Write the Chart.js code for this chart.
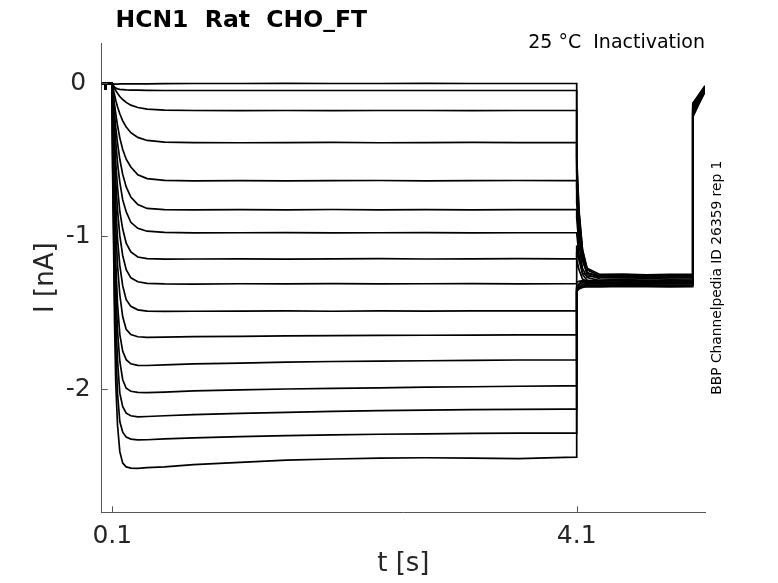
<!DOCTYPE html>
<html>
<head>
<meta charset="utf-8">
<script src="https://cdn.jsdelivr.net/npm/chart.js@4.4.1/dist/chart.umd.min.js"></script>
<style>
  html, body { margin: 0; background: #fff; }
  canvas { display: block; }
</style>
</head>
<body>
<canvas id="chart" width="778" height="583"></canvas>
<script>
// holding segment, same for every sweep (t in s, I in nA)
const holdT = [0.009, 0.036, 0.04, 0.044, 0.1];
const holdI = [0.0, 0.0, -0.035, 0.0, 0.0];

// test pulse (0.1 s .. 4.1 s)
const testT = [0.1, 0.105, 0.11, 0.12, 0.13, 0.145, 0.165, 0.19, 0.22, 0.26, 0.32, 0.4,
               0.55, 0.8, 1.2, 1.6, 2.0, 2.4, 2.8, 3.2, 3.6, 4.0, 4.1];
const testI = [
  [0, -0.002, -0.003, -0.004, -0.004, -0.004, -0.003, -0.003, -0.003, -0.002, -0.002, -0.002, -0.001, 0, 0, 0.001, 0, 0, 0.001, 0, 0, 0, 0],
  [0, -0.008, -0.015, -0.024, -0.03, -0.035, -0.038, -0.04, -0.042, -0.043, -0.044, -0.045, -0.046, -0.046, -0.046, -0.046, -0.046, -0.046, -0.046, -0.046, -0.046, -0.046, -0.046],
  [0, -0.009, -0.017, -0.032, -0.046, -0.064, -0.085, -0.105, -0.124, -0.142, -0.157, -0.168, -0.175, -0.177, -0.178, -0.177, -0.178, -0.177, -0.177, -0.178, -0.177, -0.177, -0.177],
  [0, -0.021, -0.041, -0.077, -0.11, -0.152, -0.198, -0.245, -0.285, -0.322, -0.353, -0.373, -0.384, -0.387, -0.388, -0.387, -0.386, -0.388, -0.387, -0.386, -0.387, -0.387, -0.387],
  [0, -0.038, -0.075, -0.14, -0.197, -0.274, -0.356, -0.432, -0.496, -0.547, -0.598, -0.623, -0.634, -0.637, -0.636, -0.638, -0.636, -0.635, -0.637, -0.636, -0.635, -0.636, -0.636],
  [0, -0.056, -0.11, -0.207, -0.289, -0.388, -0.496, -0.595, -0.677, -0.743, -0.793, -0.818, -0.826, -0.828, -0.826, -0.827, -0.825, -0.827, -0.826, -0.828, -0.826, -0.826, -0.826],
  [0, -0.078, -0.15, -0.274, -0.381, -0.518, -0.645, -0.762, -0.84, -0.909, -0.948, -0.967, -0.975, -0.978, -0.977, -0.976, -0.978, -0.977, -0.976, -0.978, -0.977, -0.977, -0.977],
  [0, -0.109, -0.207, -0.379, -0.517, -0.677, -0.838, -0.953, -1.045, -1.102, -1.136, -1.146, -1.15, -1.149, -1.148, -1.15, -1.148, -1.147, -1.149, -1.148, -1.147, -1.148, -1.148],
  [0, -0.138, -0.262, -0.472, -0.642, -0.826, -0.996, -1.127, -1.219, -1.272, -1.298, -1.308, -1.312, -1.313, -1.311, -1.312, -1.31, -1.312, -1.311, -1.31, -1.312, -1.311, -1.311],
  [0, -0.176, -0.328, -0.581, -0.789, -1.013, -1.191, -1.325, -1.415, -1.459, -1.482, -1.49, -1.492, -1.491, -1.49, -1.489, -1.491, -1.488, -1.49, -1.489, -1.488, -1.489, -1.489],
  [0, -0.219, -0.412, -0.708, -0.955, -1.185, -1.383, -1.527, -1.61, -1.643, -1.658, -1.662, -1.66, -1.657, -1.655, -1.652, -1.65, -1.649, -1.648, -1.647, -1.646, -1.646, -1.646],
  [0, -0.284, -0.517, -0.904, -1.162, -1.439, -1.642, -1.753, -1.808, -1.835, -1.845, -1.846, -1.842, -1.836, -1.83, -1.824, -1.82, -1.817, -1.815, -1.812, -1.81, -1.81, -1.81],
  [0, -0.331, -0.606, -1.03, -1.333, -1.616, -1.818, -1.939, -1.995, -2.015, -2.022, -2.024, -2.02, -2.012, -2.005, -2.0, -1.996, -1.992, -1.988, -1.985, -1.982, -1.98, -1.98],
  [0, -0.392, -0.719, -1.199, -1.526, -1.809, -2.027, -2.115, -2.158, -2.175, -2.182, -2.18, -2.175, -2.168, -2.16, -2.153, -2.147, -2.142, -2.138, -2.135, -2.133, -2.131, -2.131],
  [0, -0.466, -0.862, -1.398, -1.724, -2.027, -2.213, -2.283, -2.315, -2.328, -2.333, -2.332, -2.327, -2.32, -2.312, -2.305, -2.3, -2.296, -2.293, -2.291, -2.289, -2.289, -2.289],
  [0, -0.552, -0.979, -1.581, -1.958, -2.234, -2.41, -2.485, -2.51, -2.518, -2.52, -2.515, -2.51, -2.495, -2.48, -2.465, -2.458, -2.453, -2.45, -2.452, -2.455, -2.447, -2.446]
];

// tail step (4.1 s .. 5.1 s)
const tailT = [4.1, 4.12, 4.15, 4.19, 4.3, 4.5, 4.7, 4.9, 5.1];
const tailI = [
  [-0.48, -0.83, -1.09, -1.22, -1.26, -1.255, -1.262, -1.258, -1.26],
  [-0.52, -0.85, -1.09, -1.21, -1.25, -1.248, -1.252, -1.249, -1.25],
  [-0.58, -0.89, -1.12, -1.24, -1.27, -1.268, -1.272, -1.27, -1.27],
  [-0.68, -0.95, -1.15, -1.25, -1.28, -1.282, -1.278, -1.281, -1.28],
  [-0.78, -1.0, -1.16, -1.24, -1.26, -1.262, -1.258, -1.26, -1.26],
  [-0.88, -1.06, -1.21, -1.27, -1.29, -1.288, -1.292, -1.29, -1.29],
  [-0.98, -1.12, -1.25, -1.29, -1.3, -1.302, -1.298, -1.3, -1.3],
  [-1.06, -1.16, -1.24, -1.26, -1.27, -1.272, -1.268, -1.27, -1.27],
  [-1.15, -1.22, -1.28, -1.3, -1.31, -1.308, -1.312, -1.31, -1.31],
  [-1.3, -1.295, -1.29, -1.29, -1.292, -1.288, -1.29, -1.291, -1.29],
  [-1.34, -1.33, -1.325, -1.32, -1.322, -1.318, -1.32, -1.321, -1.32],
  [-1.33, -1.315, -1.305, -1.3, -1.302, -1.298, -1.3, -1.301, -1.3],
  [-1.36, -1.345, -1.335, -1.33, -1.332, -1.328, -1.33, -1.331, -1.33],
  [-1.35, -1.33, -1.315, -1.31, -1.312, -1.308, -1.31, -1.311, -1.31],
  [-1.36, -1.34, -1.325, -1.32, -1.322, -1.318, -1.32, -1.321, -1.32],
  [-1.34, -1.31, -1.295, -1.29, -1.292, -1.288, -1.29, -1.291, -1.29]
];

// last step, cut by the axis end
const stepT = [5.1, 5.15, 5.205];
const stepI = [
  [-0.13, -0.075, -0.015], [-0.135, -0.08, -0.02], [-0.14, -0.085, -0.022], [-0.145, -0.088, -0.025],
  [-0.15, -0.09, -0.028], [-0.155, -0.095, -0.03], [-0.16, -0.1, -0.032], [-0.165, -0.102, -0.035],
  [-0.17, -0.105, -0.037], [-0.175, -0.11, -0.04], [-0.18, -0.112, -0.042], [-0.185, -0.115, -0.045],
  [-0.19, -0.12, -0.047], [-0.2, -0.125, -0.05], [-0.21, -0.13, -0.052], [-0.22, -0.138, -0.055]
];

const xTicks = [0.1, 4.1];
const xTickLabels = ['0.1', '4.1'];
const yTicks = [-2, -1, 0];
const yTickLabels = ['-2', '-1', '0'];

const font = 'DejaVu Sans';
const axisColor = '#555';

const datasets = testI.map((test, k) => {
  const pts = [];
  holdT.forEach((t, i) => pts.push({x: t, y: holdI[i]}));
  testT.forEach((t, i) => pts.push({x: t, y: test[i]}));
  tailT.forEach((t, i) => pts.push({x: t, y: tailI[k][i]}));
  stepT.forEach((t, i) => pts.push({x: t, y: stepI[k][i]}));
  return {
    data: pts,
    showLine: true,
    borderColor: '#000',
    borderWidth: 1.7,
    pointRadius: 0,
    tension: 0,
  };
});

// inward tick marks + title texts
const decor = {
  id: 'decor',
  afterDraw(chart) {
    const {ctx, chartArea: a} = chart;
    const sx = chart.scales.x, sy = chart.scales.y;
    ctx.save();
    ctx.strokeStyle = axisColor;
    ctx.lineWidth = 1;
    ctx.beginPath();
    xTicks.forEach(v => {
      const px = Math.round(sx.getPixelForValue(v)) + 0.5;
      ctx.moveTo(px, a.bottom);
      ctx.lineTo(px, a.bottom - 6);
    });
    yTicks.forEach(v => {
      const py = Math.round(sy.getPixelForValue(v)) + 0.5;
      ctx.moveTo(a.left, py);
      ctx.lineTo(a.left + 6, py);
    });
    ctx.stroke();

    ctx.fillStyle = '#000';
    ctx.textBaseline = 'alphabetic';
    ctx.textAlign = 'left';
    ctx.font = 'bold 23.5px "' + font + '"';
    ctx.fillText('HCN1  Rat  CHO_FT', 115.5, 27);
    ctx.textAlign = 'right';
    ctx.font = '19px "' + font + '"';
    ctx.fillText('25 °C  Inactivation', 705, 48);

    ctx.translate(717.5, (a.top + a.bottom) / 2);
    ctx.rotate(-Math.PI / 2);
    ctx.textAlign = 'center';
    ctx.textBaseline = 'middle';
    ctx.font = '13.8px "' + font + '"';
    ctx.fillText('BBP Channelpedia ID 26359 rep 1', 0, 0);
    ctx.restore();
  }
};

new Chart(document.getElementById('chart'), {
  type: 'scatter',
  data: {datasets: datasets},
  options: {
    responsive: false,
    animation: false,
    devicePixelRatio: 1,
    layout: {padding: {left: 0, top: 43, right: 73, bottom: 0}},
    plugins: {legend: {display: false}, tooltip: {enabled: false}},
    scales: {
      x: {
        type: 'linear',
        min: 0.009,
        max: 5.205,
        grid: {display: false, drawTicks: false},
        border: {display: true, color: axisColor, width: 1},
        afterBuildTicks: s => { s.ticks = xTicks.map(v => ({value: v})); },
        afterFit: s => { s.height = 70.7; },
        ticks: {
          font: {family: font, size: 25},
          color: '#262626',
          padding: 9,
          maxRotation: 0,
          callback: v => xTickLabels[xTicks.indexOf(v)],
        },
        title: {
          display: true,
          text: 't [s]',
          font: {family: font, size: 26},
          color: '#262626',
          padding: {top: 0, bottom: 3},
        },
      },
      y: {
        type: 'linear',
        min: -2.807,
        max: 0.265,
        grid: {display: false, drawTicks: false},
        border: {display: true, color: axisColor, width: 1},
        afterBuildTicks: s => { s.ticks = yTicks.map(v => ({value: v})); },
        afterFit: s => { s.width = 101.7; },
        ticks: {
          font: {family: font, size: 25},
          color: '#262626',
          padding: 11,
          crossAlign: 'center',
          callback: v => yTickLabels[yTicks.indexOf(v)],
        },
        title: {
          display: true,
          text: 'I [nA]',
          font: {family: font, size: 26},
          color: '#262626',
          padding: {top: 31, bottom: 0},
        },
      },
    },
  },
  plugins: [decor],
});
</script>
</body>
</html>
